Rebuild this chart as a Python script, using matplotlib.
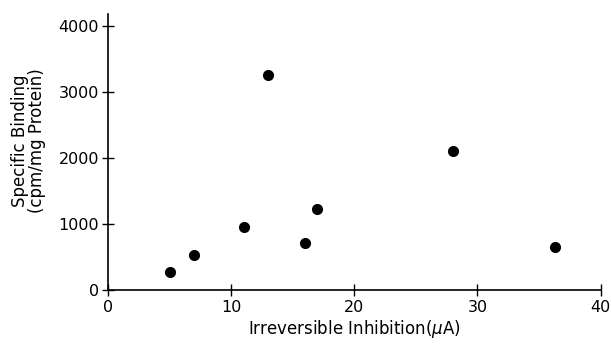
import matplotlib.pyplot as plt

# data
inhibition = [5, 7, 11, 13, 16, 17, 28, 36.3]
binding = [270, 530, 950, 3250, 710, 1225, 2100, 650]

xticks = [0, 10, 20, 30, 40]
yticks = [0, 1000, 2000, 3000, 4000]

plt.rcParams['font.family'] = ['DejaVu Sans']

fig = plt.figure(figsize=(6.11, 3.44), dpi=100)
ax = fig.add_axes([0.177, 0.157, 0.806, 0.802])

ax.plot(inhibition, binding, 'o', color='black', markersize=7)

ax.set_xlim(0, 40)
ax.set_ylim(0, 4180)
ax.set_xticks(xticks)
ax.set_yticks(yticks)
ax.tick_params(direction='inout', length=9, width=1, labelsize=11.5, pad=2, colors='black')
ax.tick_params(axis='x', pad=3)

ax.spines['top'].set_visible(False)
ax.spines['right'].set_visible(False)
ax.spines['left'].set_linewidth(1.2)
ax.spines['bottom'].set_linewidth(1.2)

ax.set_xlabel('Irreversible Inhibition($\\mu$A)', fontsize=12, labelpad=2)
fig.text(0.047, 0.59, 'Specific Binding\n(cpm/mg Protein)', rotation=90,
         ha='center', va='center', fontsize=12, linespacing=0.95)

fig.savefig('out.png', dpi=100)
